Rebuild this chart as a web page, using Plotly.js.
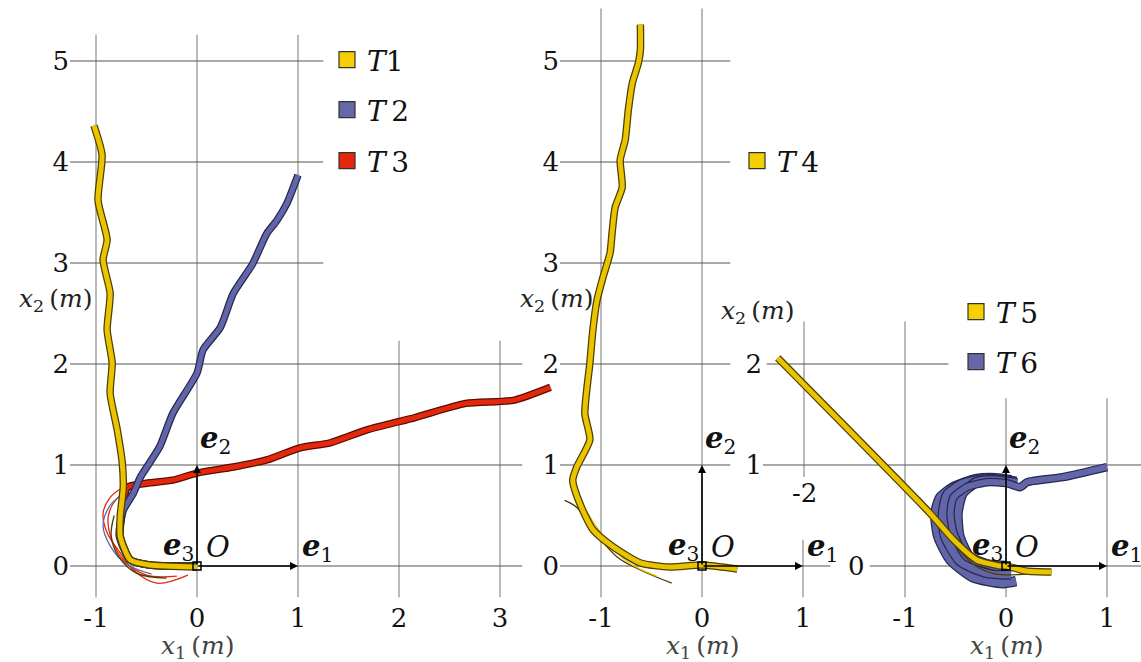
<!DOCTYPE html>
<html>
<head>
<meta charset="utf-8">
<script src="https://cdn.plot.ly/plotly-3.0.1.min.js"></script>
<style>
  html, body { margin: 0; padding: 0; background: #fff; }
  #chart { width: 1141px; height: 662px; }
</style>
</head>
<body>
<div id="chart"></div>
<script>
// ---- Trajectories (metres) ----

// left panel
var t1x = [0, -0.47, -0.66, -0.76, -0.76, -0.73, -0.74, -0.79, -0.86, -0.84, -0.89, -0.86, -0.93, -0.89, -0.98, -0.94, -1.02];
var t1y = [-0.01, 0.01, 0.06, 0.29, 0.49, 0.78, 1.02, 1.35, 1.71, 2.01, 2.34, 2.70, 3.03, 3.23, 3.62, 4.07, 4.36];

var t2x = [0, -0.47, -0.66, -0.77, -0.73, -0.63, -0.56, -0.37, -0.24, 0, 0.06, 0.23, 0.36, 0.55, 0.69, 0.79, 0.89, 1.0];
var t2y = [0, 0.01, 0.06, 0.30, 0.55, 0.72, 0.88, 1.18, 1.51, 1.91, 2.14, 2.36, 2.70, 2.99, 3.29, 3.42, 3.59, 3.87];

var t3x = [0, -0.47, -0.66, -0.76, -0.73, -0.69, -0.5, -0.24, 0, 0.36, 0.69, 1.02, 1.32, 1.69, 2.16, 2.66, 3.13, 3.5];
var t3y = [0, 0.01, 0.06, 0.30, 0.60, 0.78, 0.82, 0.85, 0.92, 0.98, 1.05, 1.17, 1.22, 1.35, 1.47, 1.61, 1.64, 1.77];

// spread of the single runs near the start
var t1fanX = [-0.3, -0.6, -0.78, -0.85, -0.82];
var t1fanY = [-0.12, -0.07, 0.1, 0.3, 0.5];
var t2fanX = [-0.45, -0.7, -0.86, -0.93, -0.86, -0.72];
var t2fanY = [-0.08, 0.02, 0.2, 0.4, 0.6, 0.72];
var t3fanX = [-0.09, -0.4, -0.63, -0.76, -0.89, -0.93, -0.86, -0.73];
var t3fanY = [-0.09, -0.17, -0.04, 0.13, 0.33, 0.52, 0.68, 0.78];
var t3fan2X = [-0.2, -0.5, -0.72, -0.84, -0.88, -0.8, -0.65];
var t3fan2Y = [-0.1, -0.09, 0.05, 0.25, 0.48, 0.66, 0.76];

// middle panel
var t4x = [0.35, 0, -0.32, -0.61, -0.88, -1.08, -1.21, -1.28, -1.24, -1.11, -1.16, -1.11, -1.08, -1.04, -0.98, -0.91, -0.89, -0.86, -0.79, -0.81, -0.76, -0.73, -0.69, -0.63, -0.61, -0.61];
var t4y = [-0.03, 0.01, -0.01, 0.03, 0.19, 0.36, 0.62, 0.85, 0.98, 1.25, 1.51, 2.01, 2.34, 2.63, 2.86, 3.10, 3.30, 3.55, 3.75, 4.02, 4.22, 4.51, 4.78, 4.98, 5.11, 5.36];
var t4fanX = [-0.3, -0.61, -0.84, -1.08, -1.24, -1.36];
var t4fanY = [-0.17, -0.04, 0.09, 0.36, 0.58, 0.65];
var t4fan2X = [-0.45, -0.75, -0.98, -1.15, -1.25];
var t4fan2Y = [-0.1, 0.05, 0.3, 0.55, 0.75];

// right panel
var t5x = [0.45, 0.2, 0, -0.06, -0.29, -0.52, -0.75, -2.26];
var t5y = [-0.06, -0.05, 0, 0, 0.06, 0.26, 0.52, 2.06];
var t5fanX = [0.45, 0.2, -0.1, -0.3, -0.5];
var t5fanY = [-0.05, -0.08, -0.08, 0.0, 0.2];

var t6x = [0, -0.09, -0.39, -0.52, -0.55, -0.52, -0.39, -0.19, 0.01, 0.14, 0.21, 0.56, 1.0];
var t6y = [0, -0.01, 0.09, 0.33, 0.52, 0.68, 0.78, 0.83, 0.82, 0.78, 0.83, 0.88, 0.98];
var t6outerX = [0.1, -0.03, -0.33, -0.55, -0.67, -0.70, -0.65, -0.52, -0.3, -0.1, 0.05];
var t6outerY = [-0.15, -0.17, -0.11, 0.06, 0.29, 0.52, 0.68, 0.78, 0.86, 0.87, 0.85];
var t6innerX = [0, -0.16, -0.36, -0.46, -0.48, -0.43, -0.29, -0.13, 0.11];
var t6innerY = [0, 0.01, 0.09, 0.29, 0.52, 0.72, 0.83, 0.85, 0.82];
var t6midX = [0.05, -0.2, -0.45, -0.6, -0.62, -0.58, -0.45, -0.25, -0.05, 0.1];
var t6midY = [-0.08, -0.06, 0.05, 0.3, 0.52, 0.7, 0.8, 0.85, 0.85, 0.83];

// ticks
var p1XTicks = [-1, 0, 1, 2, 3];
var p1YTicks = [0, 1, 2, 3, 4, 5];
var p2XTicks = [-1, 0, 1];
var p2YTicks = [0, 1, 2, 3, 4, 5];
var p3XTicks = [-1, 0, 1];
var p3YTicks = [1, 2];

var names = ["<i>T</i>1", "<i>T</i>\u20092", "<i>T</i>\u20093", "<i>T</i>\u20094", "<i>T</i>\u20095", "<i>T</i>\u20096"];


// ---- Page geometry ----
var W = 1141, H = 662, PX = 101;
var ZERO_Y = 566, BOTTOM = 600;
var SERIF = "DejaVu Serif";

var YELLOW = "#eac400", YELLOW_EDGE = "#4d3f00";
var BLUE = "#6266a8", BLUE_EDGE = "#262850";
var RED = "#e3280e", RED_EDGE = "#5a0c00";

function paperX(px) { return px / W; }
function paperY(py) { return 1 - py / H; }

function tickText(vals) {
    // hyphen instead of unicode minus, as in the figure
    return vals.map(function (v) { return String(v); });
}

function makeXAxis(leftPx, rightPx, zeroPx, ticks) {
    return {
        domain: [paperX(leftPx), paperX(rightPx)],
        range: [(leftPx - zeroPx) / PX, (rightPx - zeroPx) / PX],
        anchor: "free", position: paperY(BOTTOM),
        showgrid: false, zeroline: false, showline: false, ticks: "",
        tickvals: ticks, ticktext: tickText(ticks),
        tickfont: { family: SERIF, size: 26, color: "#111" },
        fixedrange: true
    };
}

function makeYAxis(ticks, xName) {
    return {
        domain: [paperY(BOTTOM), 1],
        range: [(ZERO_Y - BOTTOM) / PX, ZERO_Y / PX],
        anchor: xName,
        showgrid: false, zeroline: false, showline: false, ticks: "",
        tickvals: ticks, ticktext: tickText(ticks),
        tickfont: { family: SERIF, size: 26, color: "#111" },
        fixedrange: true
    };
}

// thick run bundle: dark rim under a coloured core
function band(x, y, color, edge, xa, ya, core) {
    core = core || 5;
    return [
        { x: x, y: y, xaxis: xa, yaxis: ya, type: "scatter", mode: "lines",
          line: { color: edge, width: core + 2.5, shape: "spline", smoothing: 0.6 },
          hoverinfo: "skip", showlegend: false },
        { x: x, y: y, xaxis: xa, yaxis: ya, type: "scatter", mode: "lines",
          line: { color: color, width: core, shape: "spline", smoothing: 0.6 },
          hoverinfo: "skip", showlegend: false }
    ];
}

function thin(x, y, color, xa, ya) {
    return { x: x, y: y, xaxis: xa, yaxis: ya, type: "scatter", mode: "lines",
             line: { color: color, width: 1.3, shape: "spline" },
             hoverinfo: "skip", showlegend: false };
}

function legendEntry(name, color, xa, ya, legendId) {
    return { x: [null], y: [null], xaxis: xa, yaxis: ya, type: "scatter", mode: "markers",
             name: name, legend: legendId,
             marker: { symbol: "square", size: 18, color: color, line: { color: "#333", width: 1.2 } } };
}

function origin(xa, ya) {
    return { x: [0], y: [0], xaxis: xa, yaxis: ya, type: "scatter", mode: "markers",
             marker: { symbol: "square-open", size: 8, color: "#000", line: { width: 1.5 } },
             hoverinfo: "skip", showlegend: false };
}


// ---- Traces ----
var data = [];

// left panel
data.push(thin(t3fanX, t3fanY, RED, "x", "y"));
data.push(thin(t3fan2X, t3fan2Y, RED, "x", "y"));
data.push(thin(t2fanX, t2fanY, BLUE, "x", "y"));
data.push(thin(t1fanX, t1fanY, YELLOW_EDGE, "x", "y"));
data = data.concat(band(t3x, t3y, RED, RED_EDGE, "x", "y"));
data = data.concat(band(t2x, t2y, BLUE, BLUE_EDGE, "x", "y"));
data = data.concat(band(t1x, t1y, YELLOW, YELLOW_EDGE, "x", "y"));
data.push(origin("x", "y"));

// middle panel
data.push(thin(t4fanX, t4fanY, YELLOW_EDGE, "x2", "y2"));
data.push(thin(t4fan2X, t4fan2Y, YELLOW, "x2", "y2"));
data = data.concat(band(t4x, t4y, YELLOW, YELLOW_EDGE, "x2", "y2"));
data.push(origin("x2", "y2"));

// right panel: the T6 runs make a dense blue loop
data.push(thin(t6outerX, t6outerY, BLUE_EDGE, "x3", "y3"));
data = data.concat(band(t6outerX, t6outerY, BLUE, BLUE_EDGE, "x3", "y3", 8));
data = data.concat(band(t6midX, t6midY, BLUE, BLUE_EDGE, "x3", "y3", 9));
data = data.concat(band(t6innerX, t6innerY, BLUE, BLUE_EDGE, "x3", "y3", 8));
data = data.concat(band(t6x, t6y, BLUE, BLUE_EDGE, "x3", "y3", 6));
data.push(thin(t5fanX, t5fanY, YELLOW_EDGE, "x3", "y3"));
data = data.concat(band(t5x, t5y, YELLOW, YELLOW_EDGE, "x3", "y3"));
data.push(origin("x3", "y3"));

// legend swatches
data.push(legendEntry(names[0], "#f5d000", "x", "y", "legend"));
data.push(legendEntry(names[1], "#6467a8", "x", "y", "legend2"));
data.push(legendEntry(names[2], "#e3280e", "x", "y", "legend3"));
data.push(legendEntry(names[3], "#f5d000", "x2", "y2", "legend4"));
data.push(legendEntry(names[4], "#f5d000", "x3", "y3", "legend5"));
data.push(legendEntry(names[5], "#6467a8", "x3", "y3", "legend6"));


// ---- Grid (each panel is an L-shaped patch of lines) ----
var shapes = [];

function hLine(xa, ya, y, x0, x1) {
    shapes.push({ type: "line", xref: xa, yref: ya, x0: x0, x1: x1, y0: y, y1: y,
                  line: { color: "#555", width: 1.2 }, layer: "below" });
}
function vLine(xa, ya, x, y0, y1) {
    shapes.push({ type: "line", xref: xa, yref: ya, x0: x, x1: x, y0: y0, y1: y1,
                  line: { color: "#8c8c8c", width: 1.2 }, layer: "below" });
}

[-1, 0, 1].forEach(function (v) { vLine("x", "y", v, -0.31, 5.26); });
[2, 3].forEach(function (v) { vLine("x", "y", v, -0.31, 2.23); });
[3, 4, 5].forEach(function (v) { hLine("x", "y", v, -1.26, 1.25); });
[0, 1, 2].forEach(function (v) { hLine("x", "y", v, -1.26, 3.22); });

[-1, 0].forEach(function (v) { vLine("x2", "y2", v, -0.31, 5.52); });
vLine("x2", "y2", 1, -0.31, 0.26);
[1, 2, 3, 4, 5].forEach(function (v) { hLine("x2", "y2", v, -1.41, 0.28); });
hLine("x2", "y2", 0, -1.41, 1.27);

vLine("x3", "y3", -2, 0.88, 2.42);
vLine("x3", "y3", -1, -0.31, 2.42);
[0, 1].forEach(function (v) { vLine("x3", "y3", v, -0.31, 1.66); });
hLine("x3", "y3", 2, -2.37, -0.57);
hLine("x3", "y3", 1, -2.41, 1.34);
hLine("x3", "y3", 0, -1.35, 1.34);


// ---- Frame arrows and labels ----
var annotations = [];

function frame(xa, ya) {
    var arrow = { xref: xa, yref: ya, axref: xa, ayref: ya, ax: 0, ay: 0, text: "",
                  showarrow: true, arrowhead: 2, arrowsize: 1, arrowwidth: 1.6,
                  arrowcolor: "#000", standoff: 0 };
    annotations.push(Object.assign({}, arrow, { x: 1, y: 0 }));
    annotations.push(Object.assign({}, arrow, { x: 0, y: 1 }));

    var f = { family: SERIF, size: 29, color: "#111" };
    annotations.push({ xref: xa, yref: ya, x: 0.18, y: 1.25, showarrow: false, font: f,
                       text: "<b><i>e</i></b><sub>2</sub>" });
    annotations.push({ xref: xa, yref: ya, x: 1.19, y: 0.18, showarrow: false, font: f,
                       text: "<b><i>e</i></b><sub>1</sub>" });
    annotations.push({ xref: xa, yref: ya, x: -0.18, y: 0.19, showarrow: false, font: f,
                       text: "<b><i>e</i></b><sub>3</sub>" });
    annotations.push({ xref: xa, yref: ya, x: 0.21, y: 0.19, showarrow: false, font: f,
                       text: "<i>O</i>" });
}
frame("x", "y");
frame("x2", "y2");
frame("x3", "y3");

function label(text, px, py, size, color) {
    annotations.push({ xref: "paper", yref: "paper", x: paperX(px), y: paperY(py),
                       xanchor: "center", yanchor: "middle", showarrow: false, text: text,
                       font: { family: SERIF, size: size, color: color } });
}
var X1 = "<i>x</i><sub>1</sub>\u2009(<i>m</i>)";
var X2 = "<i>x</i><sub>2</sub>\u2009(<i>m</i>)";
label(X1, 197, 647, 25, "#444");
label(X1, 702, 647, 25, "#444");
label(X1, 1006, 647, 25, "#444");
label(X2, 55, 300, 25, "#222");
label(X2, 556, 300, 25, "#222");
label(X2, 757, 312, 25, "#222");

// stray tick labels of the right panel
annotations.push({ xref: "x3", yref: "y3", x: -2, y: 0.72, showarrow: false, text: "-2",
                   font: { family: SERIF, size: 26, color: "#111" } });
annotations.push({ xref: "x3", yref: "y3", x: -1.48, y: 0, showarrow: false, text: "0",
                   font: { family: SERIF, size: 26, color: "#111" } });


// ---- Legends, one box per item ----
function legendBox(cx, cy) {
    return { x: paperX(cx - 20), y: paperY(cy), xanchor: "left", yanchor: "middle",
             bgcolor: "rgba(0,0,0,0)", borderwidth: 0, itemwidth: 30,
             font: { family: SERIF, size: 28, color: "#111" } };
}

var layout = {
    width: W,
    height: H,
    margin: { t: 0, b: 0, l: 0, r: 0 },
    paper_bgcolor: "#fff",
    plot_bgcolor: "rgba(0,0,0,0)",
    showlegend: true,
    font: { family: SERIF },

    xaxis: makeXAxis(70, 555, 197, p1XTicks),
    yaxis: makeYAxis(p1YTicks, "x"),
    xaxis2: makeXAxis(560, 835, 702, p2XTicks),
    yaxis2: makeYAxis(p2YTicks, "x2"),
    xaxis3: makeXAxis(763, 1141, 1006, p3XTicks),
    yaxis3: makeYAxis(p3YTicks, "x3"),

    legend: legendBox(347, 60),
    legend2: legendBox(347, 110),
    legend3: legendBox(347, 161),
    legend4: legendBox(757, 161),
    legend5: legendBox(976, 312),
    legend6: legendBox(976, 362),

    shapes: shapes,
    annotations: annotations
};

Plotly.newPlot("chart", data, layout, { staticPlot: true });
</script>
</body>
</html>
